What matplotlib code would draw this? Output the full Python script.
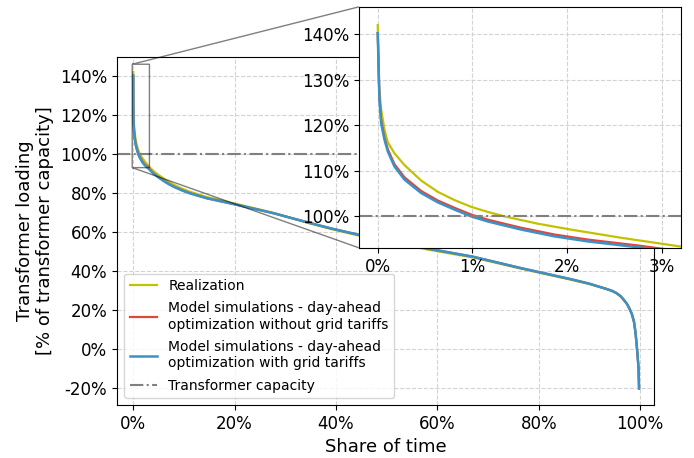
import numpy as np
import matplotlib
matplotlib.use("Agg")
import matplotlib.pyplot as plt
from matplotlib.ticker import FuncFormatter

# duration curves (share of time -> loading in p.u.)
share_real = [0, 0.00011, 0.00036, 0.00071, 0.00106, 0.00176, 0.00282, 0.00458, 0.00634, 0.0081,
              0.00987, 0.0116, 0.0134, 0.0169, 0.0204, 0.0257, 0.0319,
              0.035, 0.04, 0.05, 0.06, 0.07, 0.08, 0.095, 0.11, 0.145, 0.20,
              0.277, 0.343, 0.389, 0.441, 0.579, 0.671, 0.763, 0.862, 0.90, 0.935,
              0.945, 0.954, 0.962, 0.968, 0.974, 0.979, 0.984, 0.988, 0.991, 0.993,
              0.995, 0.997, 0.998]
load_real = [1.42, 1.292, 1.234, 1.190, 1.162, 1.138, 1.112, 1.078, 1.053, 1.035,
             1.020, 1.009, 0.999, 0.983, 0.970, 0.952, 0.933,
             0.925, 0.912, 0.892, 0.874, 0.857, 0.842, 0.824, 0.808, 0.779, 0.746,
             0.698, 0.648, 0.616, 0.584, 0.511, 0.469, 0.413, 0.356, 0.333, 0.306,
             0.297, 0.285, 0.269, 0.251, 0.231, 0.207, 0.177, 0.139, 0.084, 0.029,
             -0.031, -0.10, -0.202]

share_model = [0, 0.00018, 0.00036, 0.00071, 0.00106, 0.00176, 0.00282, 0.00458, 0.00634, 0.0081,
               0.00987, 0.0116, 0.01515, 0.0187, 0.0222, 0.0275,
               0.03, 0.035, 0.04, 0.05, 0.06, 0.07, 0.08, 0.095, 0.11, 0.145, 0.20,
               0.277, 0.343, 0.389, 0.441, 0.579, 0.671, 0.763, 0.862, 0.90, 0.935,
               0.945, 0.954, 0.962, 0.968, 0.974, 0.979, 0.984, 0.988, 0.991, 0.993,
               0.995, 0.997, 0.998]
load_no_tariff = [1.402, 1.262, 1.210, 1.173, 1.147, 1.114, 1.085, 1.055, 1.034, 1.018,
                  1.003, 0.992, 0.974, 0.959, 0.948, 0.935,
                  0.928, 0.914, 0.900, 0.880, 0.862, 0.846, 0.832, 0.815, 0.800, 0.773, 0.742,
                  0.696, 0.650, 0.619, 0.588, 0.516, 0.473, 0.416, 0.359, 0.335, 0.307,
                  0.298, 0.286, 0.270, 0.252, 0.232, 0.208, 0.178, 0.140, 0.085, 0.030,
                  -0.03, -0.10, -0.202]
load_tariff = [1.402, 1.256, 1.204, 1.168, 1.142, 1.109, 1.080, 1.0505, 1.030, 1.014,
               0.999, 0.988, 0.970, 0.955, 0.944, 0.931,
               0.925, 0.912, 0.900, 0.880, 0.862, 0.846, 0.832, 0.815, 0.800, 0.773, 0.742,
               0.696, 0.650, 0.619, 0.588, 0.516, 0.473, 0.416, 0.359, 0.335, 0.307,
               0.298, 0.286, 0.270, 0.252, 0.232, 0.208, 0.178, 0.140, 0.085, 0.030,
               -0.03, -0.10, -0.202]
capacity = 1.0

c_real = "#c2c200"
c_no = "#e0463a"
c_yes = "#3a93c6"

pct = FuncFormatter(lambda v, pos: f"{v*100:.0f}%")

fig = plt.figure(figsize=(6.94, 4.58), dpi=100)
ax = fig.add_axes([0.1686, 0.1157, 0.7734, 0.7598])

ax.plot(share_real, load_real, color=c_real, lw=1.6, label="Realization")
ax.plot(share_model, load_no_tariff, color=c_no, lw=1.6,
        label="Model simulations - day-ahead\noptimization without grid tariffs")
ax.plot(share_model, load_tariff, color=c_yes, lw=1.8,
        label="Model simulations - day-ahead\noptimization with grid tariffs")
ax.axhline(capacity, color="gray", ls="-.", lw=1.5, label="Transformer capacity")

ax.set_xlim(-0.032, 1.027)
ax.set_ylim(-0.287, 1.497)
ax.set_xticks(np.arange(0, 1.01, 0.2))
ax.set_yticks(np.arange(-0.2, 1.41, 0.2))
ax.xaxis.set_major_formatter(pct)
ax.yaxis.set_major_formatter(pct)
ax.tick_params(labelsize=12)
ax.grid(True, ls="--", color="lightgray", lw=0.8)
ax.set_axisbelow(True)
ax.set_xlabel("Share of time", fontsize=13)
ax.set_ylabel("Transformer loading\n[% of transformer capacity]", fontsize=13)
ax.legend(loc="lower left", fontsize=10, labelspacing=0.6)

axins = fig.add_axes([0.517, 0.459, 0.464, 0.526])
axins.plot(share_real, load_real, color=c_real, lw=1.6)
axins.plot(share_model, load_no_tariff, color=c_no, lw=1.6)
axins.plot(share_model, load_tariff, color=c_yes, lw=1.8)
axins.axhline(capacity, color="gray", ls="-.", lw=1.5)
axins.set_xlim(-0.002, 0.032)
axins.set_ylim(0.93, 1.46)
axins.set_xticks([0, 0.01, 0.02, 0.03])
axins.set_yticks([1.0, 1.1, 1.2, 1.3, 1.4])
axins.xaxis.set_major_formatter(pct)
axins.yaxis.set_major_formatter(pct)
axins.tick_params(labelsize=12)
axins.grid(True, ls="--", color="lightgray", lw=0.8)
axins.set_axisbelow(True)

ax.indicate_inset_zoom(axins, edgecolor="black")

fig.savefig("out.png", dpi=100)
